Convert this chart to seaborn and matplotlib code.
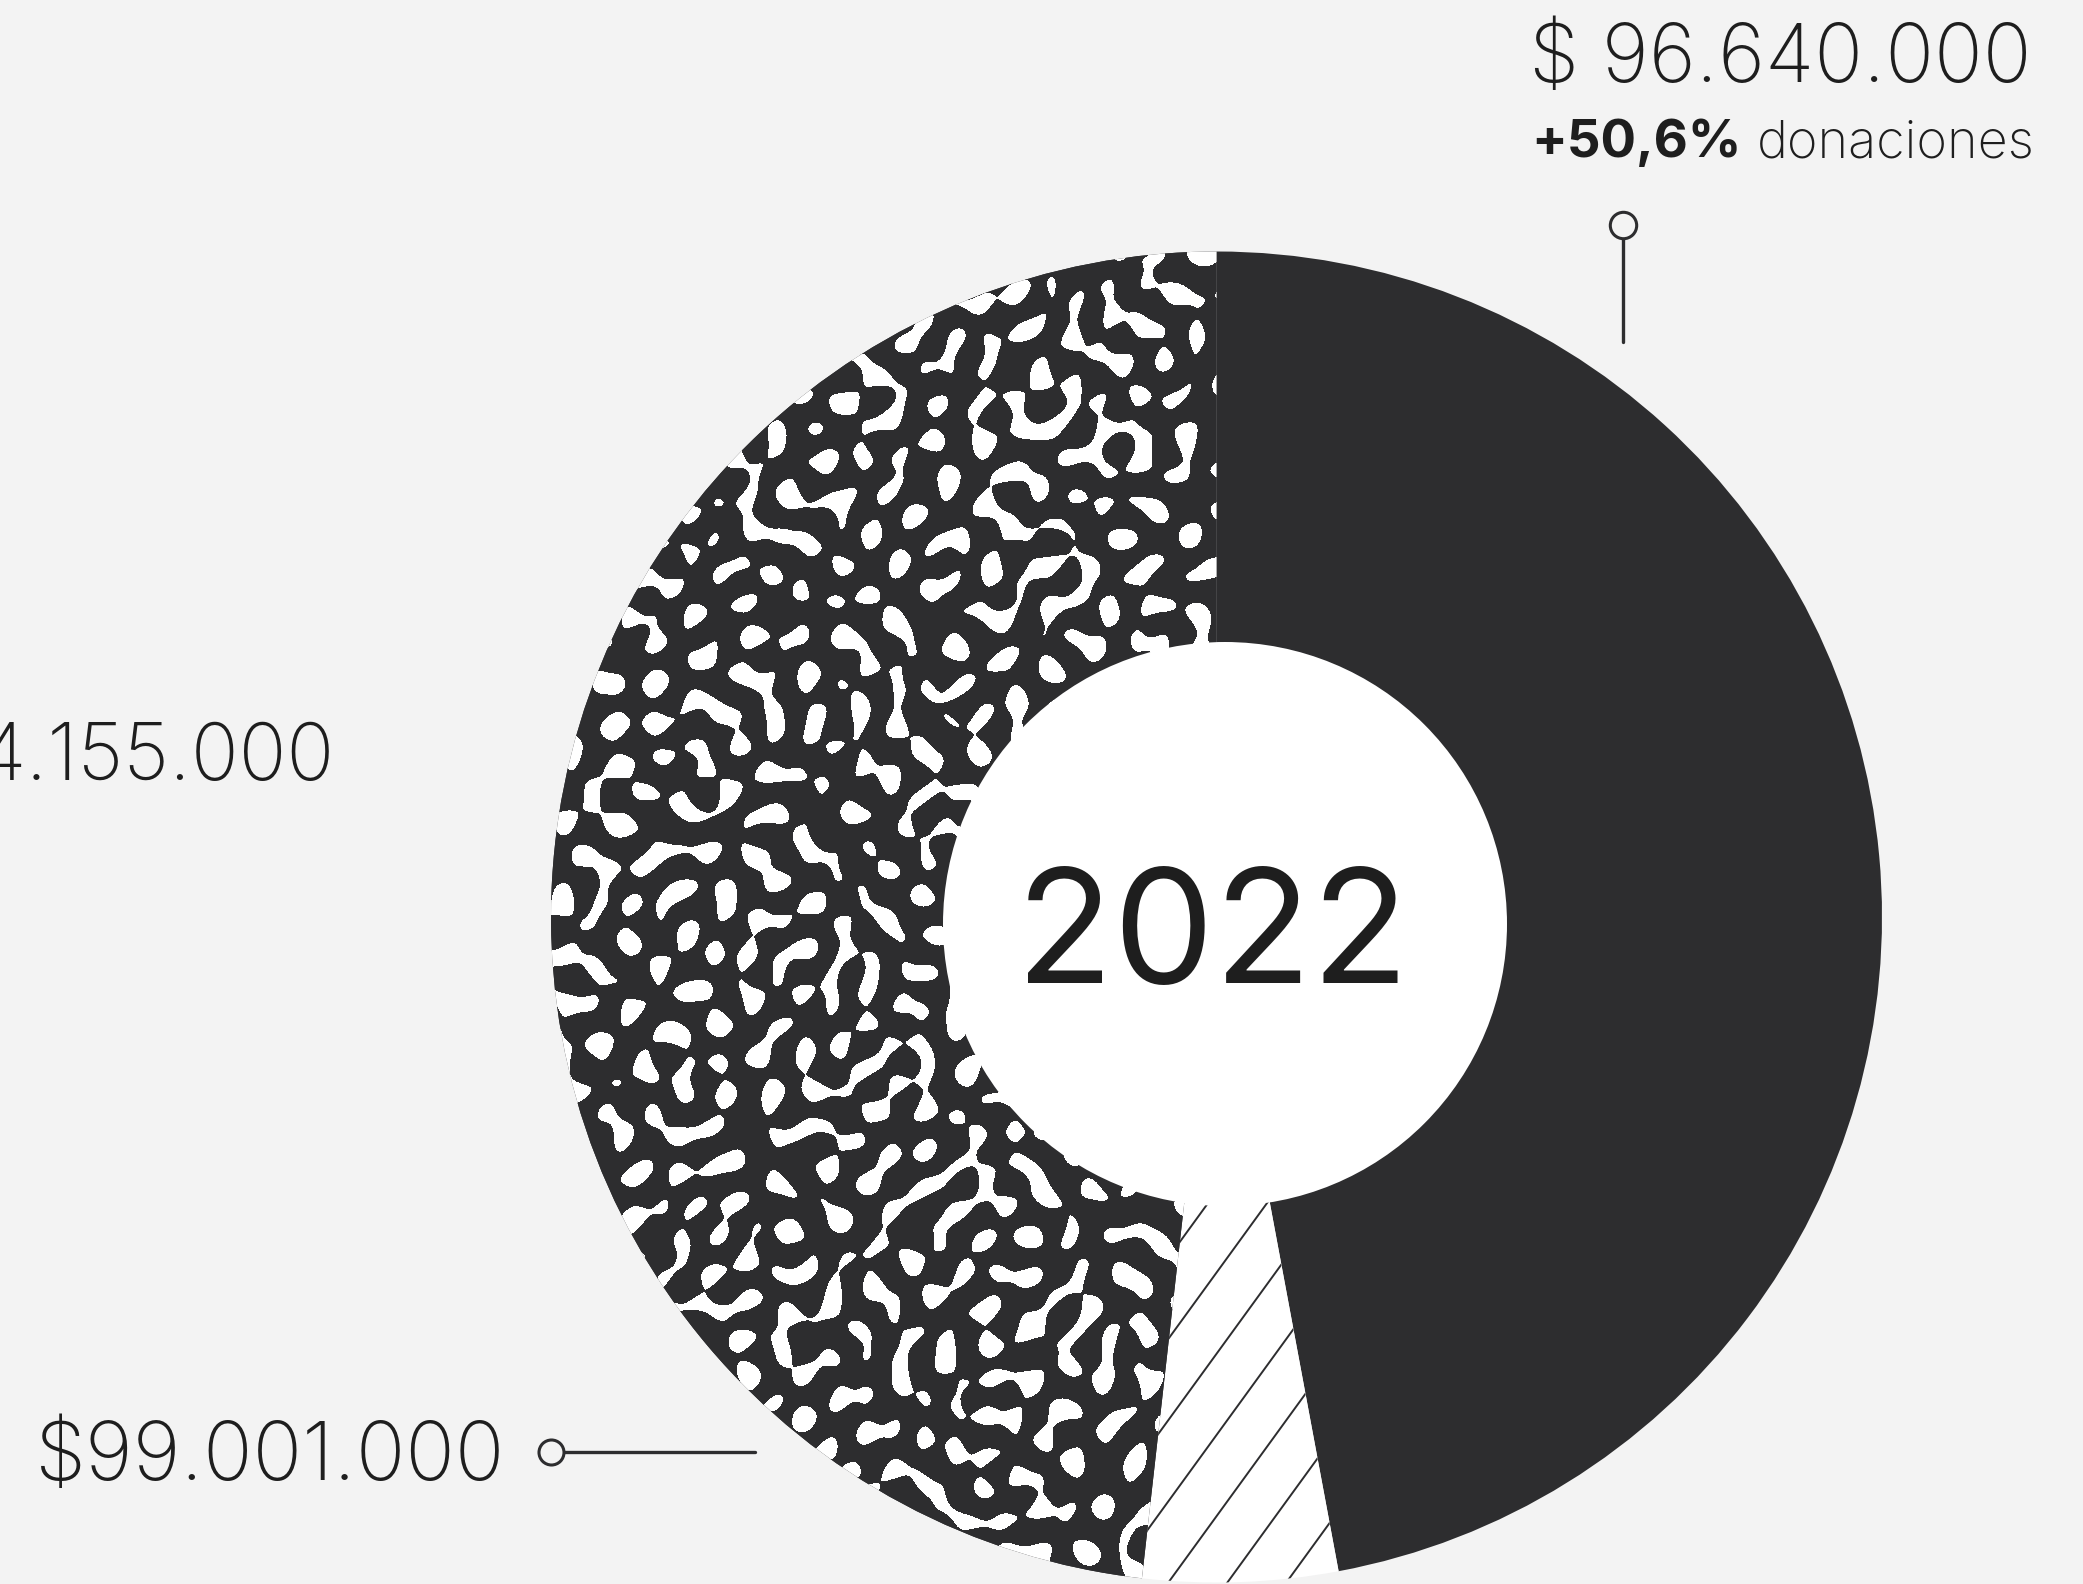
import numpy as np
import matplotlib.pyplot as plt
import seaborn as sns
from matplotlib.colors import ListedColormap
from matplotlib.patches import Circle

slice_names = ["donaciones", "otros", "aportes"]
slice_values = [96.64, 9.7, 99.001]

amount_top = "$ 96.640.000"
growth_pct = "+50,6%"
growth_word = "donaciones"
amount_left = "4.155.000"
amount_bottom = "$99.001.000"
year_label = "2022"

BG = "#f3f3f3"
DARK = "#2d2d2f"
TXT = "#1e1e1e"

W, H = 2083, 1584
cx, cy, R = 1216.5, 917, 665.5          # ring centre / radius (px, from top)
hx, hy, hr = 1225, 924, 282             # white hole


def Y(py):
    return H - py


sns.set_theme(style="white")
plt.rcParams['font.family'] = ['Inter', 'DejaVu Sans']

fig = plt.figure(figsize=(W / 100, H / 100), dpi=100, facecolor=BG)
ax = fig.add_axes([0, 0, 1, 1])
ax.set_facecolor(BG)

wedges, _ = ax.pie(slice_values, startangle=90, counterclock=False,
                   center=(cx, Y(cy)), radius=R,
                   colors=[DARK, "white", DARK],
                   wedgeprops=dict(linewidth=0))

# speckled texture for the third slice
n = int(2 * R)
gx, gy = np.meshgrid(np.arange(n), np.arange(n))
field = np.zeros((n, n))
for i in range(60):
    th = i * 2.39996
    lam = 30 + 20 * ((i * 0.618034) % 1)
    phi = ((i * i * 0.7548776) % 1) * 2 * np.pi
    k = 2 * np.pi / lam
    field += np.cos(k * (np.cos(th) * gx + np.sin(th) * gy) + phi)
mask = (field > np.quantile(field, 0.29)).astype(float)
img = ax.imshow(mask, cmap=ListedColormap(["white", DARK]), origin="lower",
                extent=[cx - R, cx + R, Y(cy) - R, Y(cy) + R],
                interpolation="antialiased", zorder=2)
img.set_clip_path(wedges[2])

# diagonal hatching for the small slice
ang = np.deg2rad(54)
for j in range(-14, 14):
    x0 = 1168 + 59 * j
    t = np.array([-200, 900])
    ln, = ax.plot(x0 + t * np.cos(ang), 1 + t * np.sin(ang),
                  color=DARK, lw=1.4, zorder=2)
    ln.set_clip_path(wedges[1])

ax.add_patch(Circle((hx, Y(hy)), hr, facecolor="white", edgecolor="none", zorder=3))

ax.set_xlim(0, W)
ax.set_ylim(0, H)
ax.axis("off")

ax.text(1212, Y(983), year_label, fontsize=115, color=TXT,
        ha="center", va="baseline", zorder=4)

ax.text(1529, Y(82), amount_top, fontsize=58, fontweight="light",
        color=TXT, ha="left", va="baseline")
ax.text(1531, Y(157), growth_pct, fontsize=38, fontweight="bold",
        color=TXT, ha="left", va="baseline")
ax.text(2035, Y(157), growth_word, fontsize=37.5, fontweight="light",
        color=TXT, ha="right", va="baseline")
ax.text(335, Y(780), amount_left, fontsize=57, fontweight="light",
        color=TXT, ha="right", va="baseline")
ax.text(505, Y(1480), amount_bottom, fontsize=59, fontweight="light",
        color=TXT, ha="right", va="baseline")

# leader lines
ax.plot([1623, 1623], [Y(239), Y(342)], color=DARK, lw=2.4)
ax.plot(1623, Y(225), marker="o", ms=19, mfc=BG, mec=DARK, mew=2.2)
ax.plot([564, 755], [Y(1452), Y(1452)], color=DARK, lw=2.4)
ax.plot(551, Y(1452), marker="o", ms=18, mfc=BG, mec=DARK, mew=2.2)

fig.savefig("out.png", dpi=100, facecolor=BG)
plt.close(fig)
